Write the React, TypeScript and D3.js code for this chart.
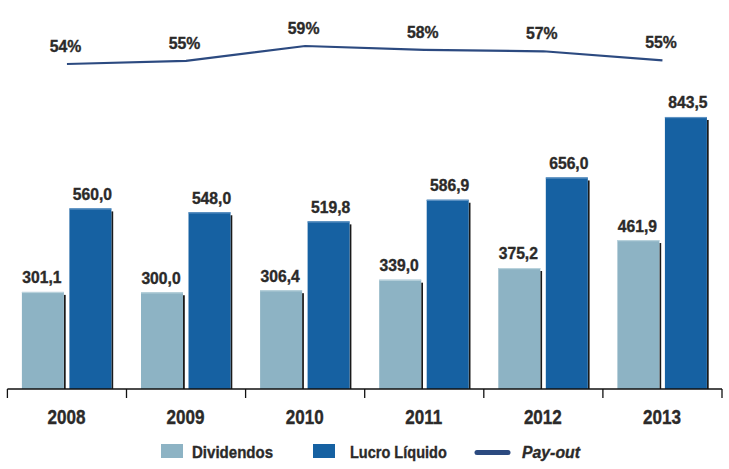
import React from "react";
import * as d3 from "d3";

const years = ["2008", "2009", "2010", "2011", "2012", "2013"];
const dividendos = [301.1, 300.0, 306.4, 339.0, 375.2, 461.9];
const lucro = [560.0, 548.0, 519.8, 586.9, 656.0, 843.5];
const payout = [53.8, 54.7, 58.9, 57.8, 57.4, 54.8];
const payoutLabels = ["54%", "55%", "59%", "58%", "57%", "55%"];
const seriesNames = ["Dividendos", "Lucro Líquido"];
const seriesColors = ["#8db3c4", "#1661a2"];
const highlight = ["#b9d2dc", "#5f93c3"];

const W = 729;
const H = 469;
const FONT = "'Liberation Sans', Arial, sans-serif";
const TEXT = "#2b2a29";
const LINE = "#2c4a80";

const fmt = (v: number) => v.toFixed(1).replace(".", ",");

type TProps = {
  x: number;
  y: number;
  size: number;
  sx?: number;
  anchor?: "start" | "middle" | "end";
  italic?: boolean;
  children: React.ReactNode;
};

function T({ x, y, size, sx = 1, anchor = "start", italic = false, children }: TProps) {
  return (
    <text
      transform={`translate(${x},${y}) scale(${sx},1)`}
      textAnchor={anchor}
      fontFamily={FONT}
      fontWeight="bold"
      fontStyle={italic ? "italic" : "normal"}
      fontSize={size}
      fill={TEXT}
      stroke={TEXT}
      strokeWidth={0.35}
    >
      {children}
    </text>
  );
}

export default function App() {
  const x0 = d3.scaleBand<string>().domain(years).range([7.4, 722]).padding(0);
  const x1 = d3.scaleBand<string>().domain(seriesNames).range([14.5, 104]).paddingInner(0.116);
  const y = d3.scaleLinear().domain([0, 900]).range([389, 98.75]);
  const yp = d3.scaleLinear().domain([50, 60]).range([77.4, 42.1]);

  const linePath = d3
    .line<number>()
    .x((_, i) => (x0(years[i]) as number) + x0.bandwidth() / 2)
    .y((d) => yp(d))(payout) as string;

  const ticks = [...years.map((yr) => x0(yr) as number), 722];

  return (
    <svg width={W} height={H} style={{ position: "absolute", left: 0, top: 0, background: "#fff" }}>
      {/* bars */}
      {years.map((yr, i) => {
        const bx = x0(yr) as number;
        return (
          <g key={yr}>
            {[dividendos[i], lucro[i]].map((v, s) => {
              const sx = bx + (x1(seriesNames[s]) as number);
              const bw = x1.bandwidth();
              const top = y(v);
              return (
                <g key={s}>
                  <rect x={sx + bw} y={top + 3} width={1.8} height={y(0) - top - 3} fill="#1a1a1a" />
                  <rect x={sx} y={top} width={bw} height={y(0) - top} fill={seriesColors[s]} />
                  <rect x={sx} y={top} width={bw} height={1.2} fill={highlight[s]} />
                  <T x={sx + bw / 2 + (s === 1 ? 2 : -1)} y={top - 8.5} size={16} sx={0.98} anchor="middle">
                    {fmt(v)}
                  </T>
                </g>
              );
            })}
          </g>
        );
      })}

      {/* axis */}
      <line x1={7.4} x2={722} y1={y(0)} y2={y(0)} stroke="#111" strokeWidth={1.6} />
      {ticks.map((t, i) => (
        <line key={i} x1={t} x2={t} y1={y(0)} y2={y(0) + 9} stroke="#111" strokeWidth={1.3} />
      ))}
      {years.map((yr) => (
        <T key={yr} x={(x0(yr) as number) + x0.bandwidth() / 2 - 0.5} y={424} size={19.5} sx={0.875} anchor="middle">
          {yr}
        </T>
      ))}

      {/* payout line */}
      <path d={linePath} fill="none" stroke={LINE} strokeWidth={2.2} />
      {payout.map((p, i) => (
        <T key={i} x={(x0(years[i]) as number) + x0.bandwidth() / 2 - 1.5} y={yp(p) - 12} size={16.3} sx={0.97} anchor="middle">
          {payoutLabels[i]}
        </T>
      ))}

      {/* legend */}
      <rect x={161} y={444} width={22} height={14} fill={seriesColors[0]} />
      <T x={192} y={457.5} size={17} sx={0.885}>
        Dividendos
      </T>
      <rect x={313} y={444} width={22} height={14} fill={seriesColors[1]} />
      <T x={350} y={457.5} size={17} sx={0.855}>
        Lucro Líquido
      </T>
      <line x1={477} x2={508} y1={452.5} y2={452.5} stroke={LINE} strokeWidth={5} strokeLinecap="round" />
      <T x={522} y={457.5} size={17} sx={0.93} italic>
        Pay-out
      </T>
    </svg>
  );
}
